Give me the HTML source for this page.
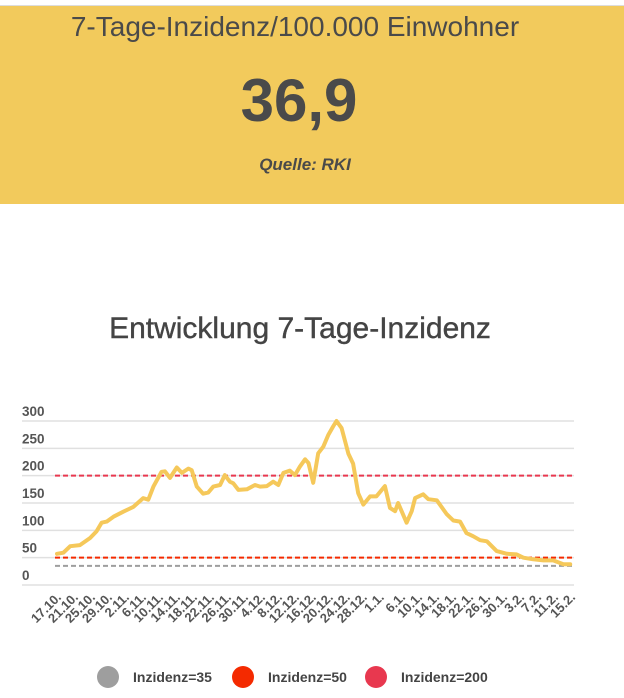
<!DOCTYPE html>
<html><head><meta charset="utf-8"><style>
html,body{margin:0;padding:0;background:#fff;width:624px;height:698px;overflow:hidden;font-family:"Liberation Sans",sans-serif;}
#hdr{position:absolute;left:0;top:5px;width:624px;height:198px;background:#F2CA5C;border-top:1px solid #ddd;}
.t{position:absolute;left:0;width:590px;text-align:center;color:#4a4a4a;}
</style></head><body>
<div id="hdr">
  <div class="t" style="top:5px;font-size:28px;">7-Tage-Inzidenz/100.000 Einwohner</div>
  <div class="t" style="top:60px;font-size:60px;font-weight:bold;left:4px;">36,9</div>
  <div class="t" style="top:149px;font-size:17px;font-weight:bold;font-style:italic;left:10px;">Quelle: RKI</div>
</div>
<svg id="chart" width="624" height="698" style="position:absolute;left:0;top:0">
<text x="300" y="338" text-anchor="middle" font-size="30" fill="#444" stroke="#444" stroke-width="0.4" font-family="Liberation Sans, sans-serif">Entwicklung 7-Tage-Inzidenz</text>
<g id="grid"></g><g id="refs"></g><g id="series"></g><g id="xlab"></g><g id="legend"></g>
</svg>
<script>
const yTicks=[0,50,100,150,200,250,300];
const xLabels=["17.10.","21.10.","25.10.","29.10.","2.11.","6.11.","10.11.","14.11.","18.11.","22.11.","26.11.","30.11.","4.12.","8.12.","12.12.","16.12.","20.12.","24.12.","28.12.","1.1.","6.1.","10.1.","14.1.","18.1.","22.1.","26.1.","30.1.","3.2.","7.2.","11.2.","15.2."];
const xLabelDays=[0,4,8,12,16,20,24,28,32,36,40,44,48,52,56,60,64,68,72,76,81,85,89,93,97,101,105,109,113,117,121];
const days=[0,1.5,3.1,5.4,7.8,9.3,10.5,11.7,13.3,15.6,18,20.3,21.5,22.7,24.6,25.4,26.6,28.2,29.4,30.9,31.7,32.9,34.4,35.6,36.8,38.4,39.5,40.7,41.5,42.7,44.7,46.6,47.8,49.4,50.9,52.1,53.3,54.8,56,57.2,58.4,59.2,60.3,61.5,62.7,63.9,65,65.8,67,68.6,69.7,70.9,72.1,73.7,75.2,77.2,78.4,79.6,80.3,82.3,83.5,84.3,86.2,87.4,89.4,91.7,93.3,94.9,96.4,98,99.6,101.2,103.5,105.9,108.2,109.8,112.1,114.5,116.8,119.2,120.8];
const values=[57,59,71,73,86,98,114,116,125,134,143,159,156,180,207,208,196,215,205,213,210,180,167,169,180,183,201,189,186,174,175,183,180,181,189,183,205,209,201,217,230,223,187,241,253,275,290,300,287,240,222,168,147,162,162,181,141,135,150,114,135,159,166,157,155,130,118,116,95,89,82,80,62,57,56,50,47,45,45,38,38];
const refValues=[35,50,200];
const refNames=["Inzidenz=35","Inzidenz=50","Inzidenz=200"];
const refColors=["#9e9e9e","#f42a00","#e8384f"];
const NS="http://www.w3.org/2000/svg";
const X0=57,X1=571,DMAX=121,Y0=585,Y300=421;
const xs=d=>X0+(X1-X0)*d/DMAX;
const ys=v=>Y0-(Y0-Y300)*v/300;
function mk(tag,attrs,parent){const e=document.createElementNS(NS,tag);for(const k in attrs)e.setAttribute(k,attrs[k]);parent.appendChild(e);return e;}
const grid=document.getElementById('grid');
yTicks.forEach(v=>{
  const l=mk('line',{x1:22,x2:574,y1:ys(v),y2:ys(v),stroke:'#e0e0e0','stroke-width':1.5},grid);
  
  
  const t=mk('text',{x:22,y:ys(v)-5,'font-size':13.5,'font-weight':'bold',fill:'#555','font-family':'Liberation Sans, sans-serif'},grid);
  t.textContent=v;
  
  
});
const refs=document.getElementById('refs');
refValues.forEach((v,i)=>{
  const l=mk('line',{x1:55,x2:574,y1:ys(v),y2:ys(v),stroke:refColors[i],'stroke-width':2,'stroke-dasharray':'5,3'},refs);
  
  
});
const series=document.getElementById('series');
let dstr=days.map((d,i)=>(i?'L':'M')+xs(d).toFixed(1)+','+ys(values[i]).toFixed(1)).join(' ');
const p=mk('path',{d:dstr,fill:'none',stroke:'#F5C85A','stroke-width':4,'stroke-linejoin':'round','stroke-linecap':'round'},series);


const xl=document.getElementById('xlab');
xLabels.forEach((s,i)=>{
  const x=xs(xLabelDays[i])+5,y=598;
  const t=mk('text',{x:x,y:y,'text-anchor':'end','font-size':13,'font-weight':'bold',fill:'#555','font-family':'Liberation Sans, sans-serif',transform:'rotate(-45 '+x+' '+y+')'},xl);
  t.textContent=s;
  
  
});
const lg=document.getElementById('legend');
const lgX=[108,243,376];
refNames.forEach((n,i)=>{
  const c=mk('circle',{cx:lgX[i],cy:677,r:11,fill:refColors[i]},lg);
  
  
  const t=mk('text',{x:lgX[i]+25,y:682,'font-size':14,'font-weight':'bold',fill:'#444','font-family':'Liberation Sans, sans-serif'},lg);
  t.textContent=n;
  
  
});
</script>
</body></html>
